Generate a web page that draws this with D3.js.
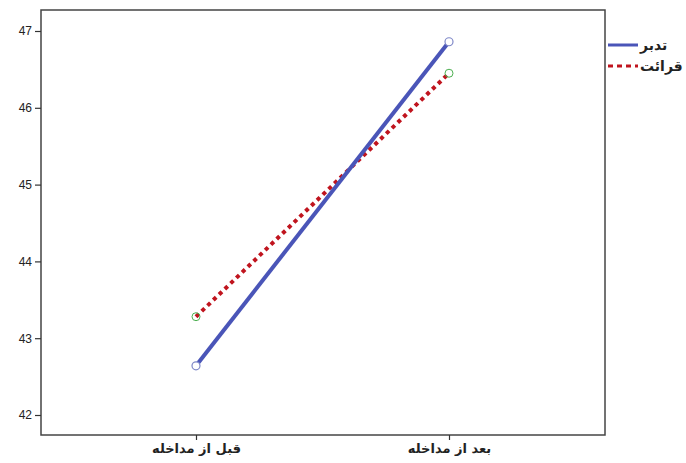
<!DOCTYPE html>
<html><head><meta charset="utf-8">
<script src="https://cdn.jsdelivr.net/npm/d3@7"></script>
<style>body{margin:0;background:#fff}svg{display:block}</style>
</head><body>
<svg id="c" width="686" height="463"></svg>
<script>
const categories = ["قبل از مداخله", "بعد از مداخله"];
const seriesNames = ["تدبر", "قرائت"];
const tadabbor = [42.64, 46.86];
const qeraat = [43.28, 46.45];
const yTicks = [42, 43, 44, 45, 46, 47];

const svg = d3.select("#c");
const L = 41, R = 605, T = 10, B = 435;
const x = d3.scalePoint().domain(categories).range([196, 449]);
const y = d3.scaleLinear().domain([42, 47]).range([415, 31]);

svg.append("rect").attr("x", L).attr("y", T).attr("width", R - L).attr("height", B - T)
  .attr("fill", "#fff").attr("stroke", "#444").attr("stroke-width", 1.5);

const ya = svg.append("g").attr("transform", `translate(${L},0)`)
  .call(d3.axisLeft(y).tickValues(yTicks).tickSize(6).tickPadding(3).tickFormat(d3.format("d")));
ya.select(".domain").remove();
ya.selectAll("line").attr("stroke", "#333").attr("stroke-width", 1.2);
ya.selectAll("text").attr("font-family", "Arial, Liberation Sans, sans-serif").attr("font-size", 12).attr("fill", "#222");

const xa = svg.append("g").attr("transform", `translate(0,${B})`)
  .call(d3.axisBottom(x).tickSize(5).tickPadding(4));
xa.select(".domain").remove();
xa.selectAll("line").attr("stroke", "#333").attr("stroke-width", 1.2);
xa.selectAll("text").attr("font-family", "DejaVu Sans, sans-serif").attr("font-weight", "bold")
  .attr("font-size", 13).attr("fill", "#222").attr("direction", "rtl");

const line = d3.line().x((d, i) => x(categories[i])).y(d => y(d));

svg.append("path").datum(qeraat).attr("d", line).attr("fill", "none")
  .attr("stroke", "#c0141e").attr("stroke-width", 4).attr("stroke-dasharray", "4,4");
svg.append("path").datum(tadabbor).attr("d", line).attr("fill", "none")
  .attr("stroke", "#4a55b8").attr("stroke-width", 4);

svg.selectAll(".mq").data(qeraat).enter().append("circle")
  .attr("cx", (d, i) => x(categories[i])).attr("cy", d => y(d)).attr("r", 4)
  .attr("fill", "none").attr("stroke", "#4caf50").attr("stroke-width", 1);
svg.selectAll(".mt").data(tadabbor).enter().append("circle")
  .attr("cx", (d, i) => x(categories[i])).attr("cy", d => y(d)).attr("r", 4)
  .attr("fill", "#fff").attr("stroke", "#7f88c8").attr("stroke-width", 1.2);

const leg = [
  {name: seriesNames[0], color: "#4a55b8", dash: null, y: 45},
  {name: seriesNames[1], color: "#c0141e", dash: "5,4", y: 66}
];
leg.forEach(l => {
  svg.append("line").attr("x1", 608).attr("x2", 638).attr("y1", l.y).attr("y2", l.y)
    .attr("stroke", l.color).attr("stroke-width", 3).attr("stroke-dasharray", l.dash);
  svg.append("text").attr("x", 640).attr("y", l.y + 5).attr("text-anchor", "end")
    .attr("direction", "rtl").attr("font-family", "DejaVu Sans, sans-serif").attr("font-weight", "bold")
    .attr("font-size", 14).attr("fill", "#222").text(l.name);
});
</script>
</body></html>
